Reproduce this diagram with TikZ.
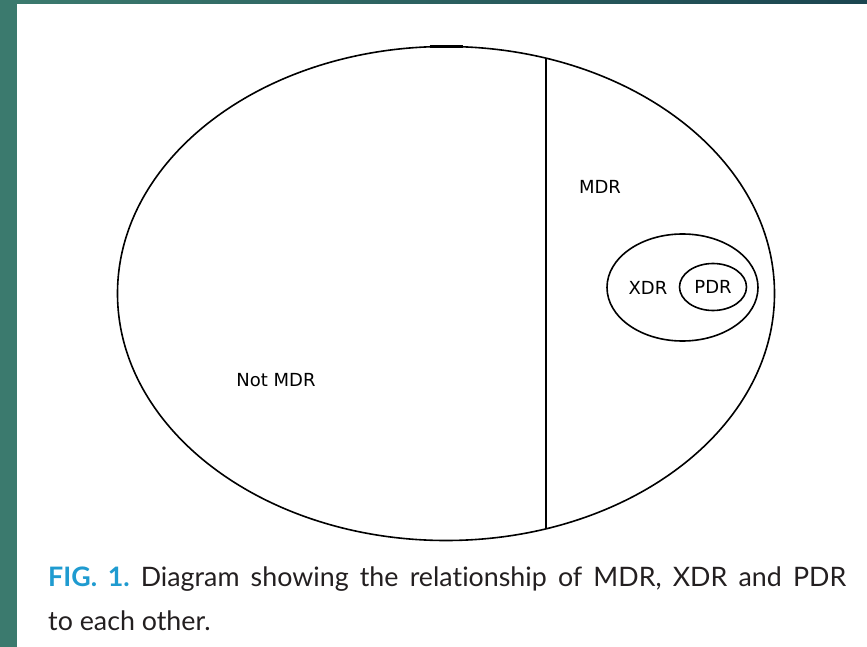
\documentclass[tikz,border=0pt]{standalone}
\usepackage{fontspec}
\usetikzlibrary{positioning, shapes.geometric}
\newfontfamily\labelfont{DejaVu Sans}
\newfontfamily\captionfont[Ligatures=NoCommon]{Lato}
\definecolor{frame}{HTML}{3B7A6E}
\definecolor{framedark}{HTML}{1B4550}
\definecolor{figblue}{HTML}{1F9BD0}
\definecolor{captext}{HTML}{231F20}

\tikzset{
    set/.style={draw, ellipse, line width=1.6pt, inner sep=0pt, outer sep=0pt},
    setlabel/.style={font=\labelfont\fontsize{18}{20}\selectfont},
    caption/.style={font=\captionfont\fontsize{26.8}{30}\selectfont, text=captext, inner sep=0pt}
}
\frenchspacing

\begin{document}
\begin{tikzpicture}[x=1pt, y=-1pt]
    \useasboundingbox (0,0) rectangle (867,647);
    % page border
    \fill[frame] (0,0) rectangle (17,647);
    \shade[left color=frame, right color=framedark] (17,0) rectangle (867,4);

    % sets
    \node[set, minimum width=657pt, minimum height=494pt] (all) at (446,293.5) {};
    \node[set, minimum width=151pt, minimum height=107pt] (xdr) at (682.5,287.5) {};
    \node[set, minimum width=67pt, minimum height=47pt, setlabel] (pdr) at (713,287) {PDR};

    \draw[line width=1.6pt] (all.67.45) -- (all.-67.45);
    \draw[line width=3pt] ([xshift=-16pt]all.north) -- ([xshift=17pt]all.north);

    \node[setlabel] (mdr) at (600,187) {MDR};
    \node[setlabel] (notmdr) at (276,380) {Not MDR};
    \node[setlabel] (xdrlabel) at (648,288) {XDR};

    % caption
    \node[caption, anchor=base west] (cap1) at (48,586)
        {\makebox[798pt][s]{\textcolor{figblue}{\bfseries FIG. 1.} Diagram showing the relationship of MDR, XDR and PDR}};
    \node[caption, anchor=base west] (cap2) at ([yshift=-44pt]cap1.base west) {to each other.};
\end{tikzpicture}
\end{document}
